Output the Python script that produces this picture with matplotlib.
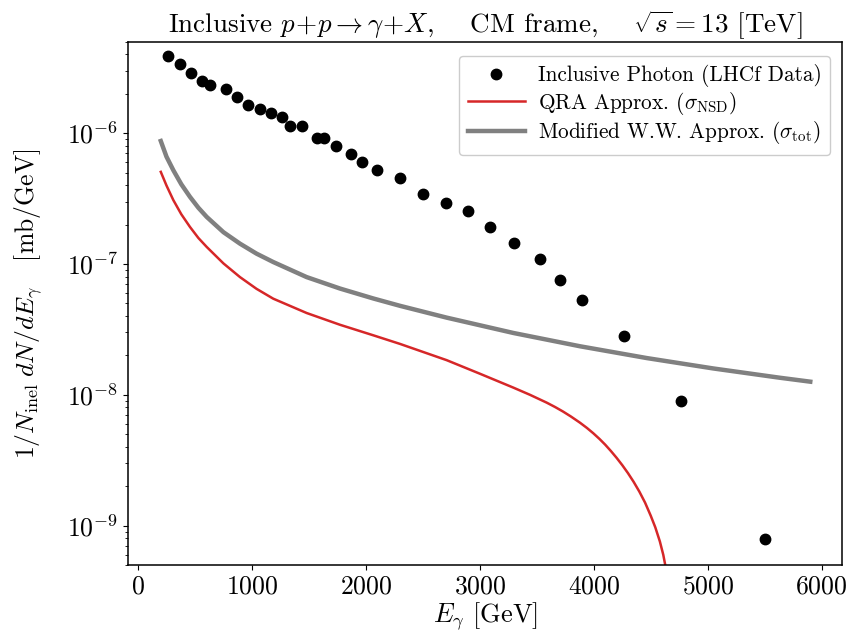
import matplotlib
matplotlib.use("Agg")
import matplotlib.pyplot as plt

plt.rcParams['font.family'] = ['cmr10', 'DejaVu Serif']
plt.rcParams['mathtext.fontset'] = 'cm'
plt.rcParams['axes.formatter.use_mathtext'] = True
plt.rcParams['axes.unicode_minus'] = False

# LHCf inclusive photon data
e_data = [266, 369, 465, 564, 632, 770, 866, 965, 1068, 1167, 1266, 1334, 1437,
          1568, 1635, 1735, 1867, 1968, 2097, 2299, 2498, 2699, 2899, 3089, 3300,
          3531, 3701, 3899, 4265, 4765, 5500]
y_data = [3.89e-6, 3.37e-6, 2.90e-6, 2.52e-6, 2.33e-6, 2.18e-6, 1.88e-6, 1.63e-6,
          1.52e-6, 1.42e-6, 1.32e-6, 1.14e-6, 1.14e-6, 9.2e-7, 9.2e-7, 7.97e-7,
          6.92e-7, 6.01e-7, 5.22e-7, 4.55e-7, 3.40e-7, 2.95e-7, 2.55e-7, 1.92e-7,
          1.45e-7, 1.09e-7, 7.6e-8, 5.35e-8, 2.81e-8, 9.0e-9, 7.94e-10]

# QRA approximation (sigma_NSD)
e_qra = [200, 250, 310, 380, 456, 530, 603, 750, 895, 1040, 1187, 1480, 1773,
         2065, 2299, 2709, 3000, 3294, 3440, 3587, 3660, 3730, 3800, 3879, 3940,
         3996, 4050, 4100, 4150, 4200, 4250, 4300, 4350, 4400, 4450, 4500, 4540,
         4580, 4610, 4635, 4650]
y_qra = [5.06e-7, 3.98e-7, 3.08e-7, 2.40e-7, 1.92e-7, 1.58e-7, 1.35e-7, 1.01e-7,
         7.94e-8, 6.46e-8, 5.43e-8, 4.22e-8, 3.43e-8, 2.85e-8, 2.45e-8, 1.84e-8,
         1.45e-8, 1.135e-8, 1.0e-8, 8.71e-9, 8.07e-9, 7.45e-9, 6.82e-9, 6.12e-9,
         5.58e-9, 5.08e-9, 4.60e-9, 4.16e-9, 3.72e-9, 3.30e-9, 2.90e-9, 2.52e-9,
         2.16e-9, 1.82e-9, 1.50e-9, 1.19e-9, 9.7e-10, 7.57e-10, 5.98e-10, 4.61e-10,
         3.72e-10]

# Modified W.W. approximation (sigma_tot)
e_ww = [200, 250, 310, 380, 456, 530, 603, 750, 895, 1040, 1187, 1480, 1773, 2065,
        2299, 2709, 3294, 3879, 4464, 5049, 5634, 5900]
y_ww = [8.71e-7, 6.61e-7, 5.21e-7, 4.07e-7, 3.26e-7, 2.69e-7, 2.29e-7, 1.75e-7,
        1.43e-7, 1.20e-7, 1.035e-7, 7.94e-8, 6.49e-8, 5.45e-8, 4.79e-8, 3.89e-8,
        2.97e-8, 2.35e-8, 1.91e-8, 1.59e-8, 1.35e-8, 1.26e-8]

fig = plt.figure(figsize=(8.67, 6.38), dpi=100)
ax = fig.add_axes([0.1476, 0.1144, 0.8239, 0.8202])

ax.plot(e_data, y_data, 'o', color='black', markersize=7.5,
        label='Inclusive Photon (LHCf Data)')
ax.plot(e_qra, y_qra, color='#d62728', linewidth=1.8,
        label=r'QRA Approx. ($\sigma_{\rm NSD}$)')
ax.plot(e_ww, y_ww, color='gray', linewidth=3.2,
        label=r'Modified W.W. Approx. ($\sigma_{\rm tot}$)')

ax.set_yscale('log')
ax.set_xlim(-88, 6181)
ax.set_ylim(5e-10, 5e-6)

ax.set_title(r'Inclusive $p\!+\!p \rightarrow \gamma\!+\!X$,    CM frame,    '
             r'$\sqrt{s} = 13$ [TeV]', fontsize=19.5, pad=5)
ax.set_xlabel(r'$E_\gamma$ [GeV]', fontsize=19, labelpad=1)
ax.set_ylabel(r'$1/N_{\rm inel}\; dN/dE_\gamma$   [mb/GeV]', fontsize=18.5, labelpad=16)
ax.tick_params(labelsize=18.5)
for s in ax.spines.values():
    s.set_linewidth(1.1)

ax.legend(loc='upper right', bbox_to_anchor=(0.983, 0.973), borderaxespad=0,
          fontsize=15.3, handlelength=2.7, borderpad=0.4, labelspacing=0.12,
          handletextpad=0.6, framealpha=1, edgecolor='#cccccc')

fig.savefig('out.png', dpi=100)
